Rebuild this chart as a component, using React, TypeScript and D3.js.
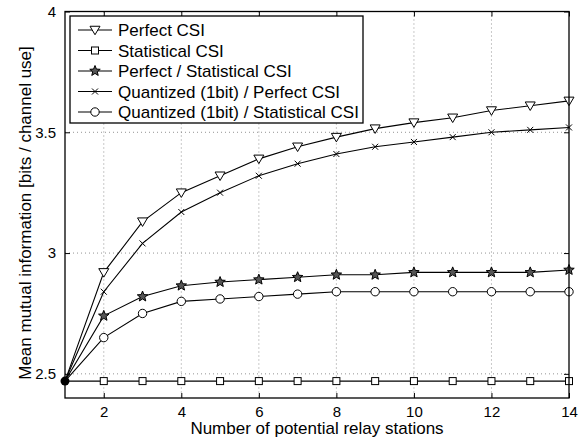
import * as d3 from "d3";
import { useRef, useEffect } from "react";

const relays = [1, 2, 3, 4, 5, 6, 7, 8, 9, 10, 11, 12, 13, 14];
const perfect = [2.47, 2.92, 3.13, 3.25, 3.32, 3.39, 3.44, 3.48, 3.515, 3.54, 3.56, 3.59, 3.61, 3.63];
const statistical = [2.47, 2.47, 2.47, 2.47, 2.47, 2.47, 2.47, 2.47, 2.47, 2.47, 2.47, 2.47, 2.47, 2.47];
const perfectStat = [2.47, 2.74, 2.82, 2.865, 2.88, 2.89, 2.9, 2.91, 2.91, 2.92, 2.92, 2.92, 2.92, 2.93];
const quantPerfect = [2.47, 2.84, 3.04, 3.17, 3.25, 3.32, 3.37, 3.41, 3.44, 3.46, 3.48, 3.5, 3.51, 3.52];
const quantStat = [2.47, 2.65, 2.75, 2.8, 2.81, 2.82, 2.83, 2.84, 2.84, 2.84, 2.84, 2.84, 2.84, 2.84];

const seriesNames = [
  "Perfect CSI",
  "Statistical CSI",
  "Perfect / Statistical CSI",
  "Quantized (1bit) / Perfect CSI",
  "Quantized (1bit) / Statistical CSI",
];
const markers = ["triangle", "square", "star", "cross", "circle"];
const xTicks = [2, 4, 6, 8, 10, 12, 14];
const yTicks = [2.5, 3, 3.5, 4];

const W = 585;
const H = 442;
const margin = { top: 11.5, right: 16, bottom: 44, left: 65 };
const FONT = "Liberation Sans, Arial, Helvetica, sans-serif";

// draw one marker centred on (cx, cy)
const drawMarker = (g, type, cx, cy) => {
  if (type === "triangle") {
    const s = 5;
    g.append("path")
      .attr("d", `M${cx - s},${cy - s * 0.75}L${cx + s},${cy - s * 0.75}L${cx},${cy + s * 0.95}Z`)
      .attr("fill", "white").attr("stroke", "black").attr("stroke-width", 1);
  } else if (type === "square") {
    g.append("rect")
      .attr("x", cx - 3.5).attr("y", cy - 3.5).attr("width", 7).attr("height", 7)
      .attr("fill", "white").attr("stroke", "black").attr("stroke-width", 1);
  } else if (type === "star") {
    const pts = [];
    for (let i = 0; i < 10; i++) {
      const r = i % 2 === 0 ? 5.5 : 2.4;
      const a = -Math.PI / 2 + (i * Math.PI) / 5;
      pts.push([cx + r * Math.cos(a), cy + r * Math.sin(a)]);
    }
    g.append("path")
      .attr("d", d3.line()(pts) + "Z")
      .attr("fill", "#555").attr("stroke", "black").attr("stroke-width", 1);
  } else if (type === "cross") {
    const s = 3;
    g.append("path")
      .attr("d", `M${cx - s},${cy - s}L${cx + s},${cy + s}M${cx - s},${cy + s}L${cx + s},${cy - s}`)
      .attr("stroke", "black").attr("stroke-width", 1);
  } else if (type === "circle") {
    g.append("circle")
      .attr("cx", cx).attr("cy", cy).attr("r", 4.2)
      .attr("fill", "white").attr("stroke", "black").attr("stroke-width", 1);
  }
};

const Chart = () => {
  const svgRef = useRef(null);

  useEffect(() => {
    const svg = d3.select(svgRef.current);
    svg.selectAll("*").remove();

    const iw = W - margin.left - margin.right;
    const ih = H - margin.top - margin.bottom;

    const x = d3.scaleLinear().domain([1, 14]).range([margin.left, margin.left + iw]);
    const y = d3.scaleLinear().domain([2.4, 4]).range([margin.top + ih, margin.top]);

    svg.append("rect").attr("width", W).attr("height", H).attr("fill", "white");

    // dotted grid
    const grid = svg.append("g");
    xTicks.filter(t => t < 14).forEach(t => {
      grid.append("line")
        .attr("x1", x(t)).attr("x2", x(t)).attr("y1", margin.top).attr("y2", margin.top + ih)
        .attr("stroke", "#777").attr("stroke-width", 0.8).attr("stroke-dasharray", "1,3");
    });
    yTicks.filter(t => t < 4).forEach(t => {
      grid.append("line")
        .attr("x1", margin.left).attr("x2", margin.left + iw).attr("y1", y(t)).attr("y2", y(t))
        .attr("stroke", "#777").attr("stroke-width", 0.8).attr("stroke-dasharray", "1,3");
    });

    // axes with inward ticks on all four sides
    const bottom = svg.append("g").attr("transform", `translate(0,${margin.top + ih})`)
      .call(d3.axisBottom(x).tickValues(xTicks).tickSizeInner(-5).tickSizeOuter(0).tickPadding(8));
    const top = svg.append("g").attr("transform", `translate(0,${margin.top})`)
      .call(d3.axisTop(x).tickValues(xTicks).tickSizeInner(-5).tickSizeOuter(0).tickFormat(() => ""));
    const left = svg.append("g").attr("transform", `translate(${margin.left},0)`)
      .call(d3.axisLeft(y).tickValues(yTicks).tickSizeInner(-5).tickSizeOuter(0).tickPadding(9).tickFormat(d3.format("")));
    const right = svg.append("g").attr("transform", `translate(${margin.left + iw},0)`)
      .call(d3.axisRight(y).tickValues(yTicks).tickSizeInner(-5).tickSizeOuter(0).tickFormat(() => ""));
    [bottom, top, left, right].forEach(a => {
      a.select(".domain").remove();
      a.selectAll(".tick line").attr("stroke", "black");
      a.selectAll("text").attr("font-family", FONT).attr("font-size", 15).attr("fill", "black");
    });

    // series lines and markers
    const allSeries = [perfect, statistical, perfectStat, quantPerfect, quantStat];
    const line = d3.line().x((d, i) => x(relays[i])).y(d => y(d));
    allSeries.forEach((vals) => {
      svg.append("path").datum(vals)
        .attr("fill", "none").attr("stroke", "black").attr("stroke-width", 1.1)
        .attr("d", line);
    });
    allSeries.forEach((vals, si) => {
      const g = svg.append("g");
      vals.forEach((v, i) => {
        if (i === 0) return;
        drawMarker(g, markers[si], x(relays[i]), y(v));
      });
    });
    // shared starting point
    svg.append("circle")
      .attr("cx", x(relays[0])).attr("cy", y(statistical[0])).attr("r", 4.5).attr("fill", "black");

    // box
    svg.append("rect")
      .attr("x", margin.left).attr("y", margin.top).attr("width", iw).attr("height", ih)
      .attr("fill", "none").attr("stroke", "black").attr("stroke-width", 1.3);

    // legend
    const lg = svg.append("g");
    lg.append("rect")
      .attr("x", 70).attr("y", 16).attr("width", 293).attr("height", 107)
      .attr("fill", "white").attr("stroke", "black").attr("stroke-width", 1.3);
    seriesNames.forEach((name, i) => {
      const ly = 30 + i * 20.5;
      lg.append("line").attr("x1", 78).attr("x2", 112).attr("y1", ly).attr("y2", ly)
        .attr("stroke", "black").attr("stroke-width", 1.1);
      drawMarker(lg, markers[i], 95, ly);
      lg.append("text").attr("x", 118).attr("y", ly + 6)
        .attr("font-family", FONT).attr("font-size", 17).text(name);
    });

    // axis titles
    svg.append("text")
      .attr("x", margin.left + iw / 2).attr("y", 434).attr("text-anchor", "middle")
      .attr("font-family", FONT).attr("font-size", 17).text("Number of potential relay stations");
    svg.append("text")
      .attr("transform", `translate(31,${213}) rotate(-90)`)
      .attr("text-anchor", "middle")
      .attr("font-family", FONT).attr("font-size", 17).text("Mean mutual information [bits / channel use]");
  }, []);

  return (
    <svg ref={svgRef} width={W} height={H}
      style={{ display: "block", position: "absolute", left: 0, top: 0 }} />
  );
};

export default function App() {
  return <Chart />;
}
